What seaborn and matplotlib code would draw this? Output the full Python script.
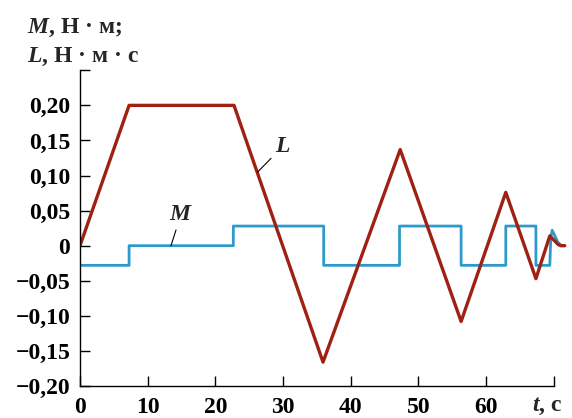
import numpy as np
import matplotlib
matplotlib.use("Agg")
import matplotlib.pyplot as plt
import seaborn as sns

# L, N*m*s  (red broken line)
t_L = [0.0, 7.25, 22.75, 35.9, 47.3, 56.3, 62.9, 67.35, 69.4, 70.0, 70.6, 71.0, 71.6]
L = [0.0, 0.20, 0.20, -0.166, 0.137, -0.108, 0.076, -0.047, 0.014, 0.008, 0.002, 0.0, 0.0]

# M, N*m  (blue step line, vertical edges as repeated times)
t_M = [0.0, 7.25, 7.25, 22.65, 22.65, 36.0, 36.0, 47.2, 47.2, 56.3, 56.3, 62.9, 62.9,
       67.35, 67.35, 69.4, 69.55, 69.75, 70.1, 70.6, 71.0, 71.6]
M = [-0.028, -0.028, 0.0, 0.0, 0.028, 0.028, -0.028, -0.028, 0.028, 0.028, -0.028, -0.028, 0.028,
     0.028, -0.028, -0.028, 0.012, 0.022, 0.015, 0.005, 0.001, 0.0]

x_ticks = [0, 10, 20, 30, 40, 50, 60, 70]
x_labels = ["0", "10", "20", "30", "40", "50", "60", ""]
y_ticks = [-0.20, -0.15, -0.10, -0.05, 0.0, 0.05, 0.10, 0.15, 0.20, 0.25]
y_labels = ["\u22120,20", "\u22120,15", "\u22120,10", "\u22120,05", "0",
            "0,05", "0,10", "0,15", "0,20", ""]

red = "#9e2114"
blue = "#2e9acb"

sns.set_theme(style="ticks")
plt.rcParams["font.family"] = ["Liberation Serif", "DejaVu Serif"]
plt.rcParams["font.weight"] = "bold"
plt.rcParams["mathtext.fontset"] = "custom"
plt.rcParams["mathtext.it"] = "Liberation Serif:italic:bold"
plt.rcParams["mathtext.rm"] = "Liberation Serif:bold"
plt.rcParams["mathtext.bf"] = "Liberation Serif:bold"

fig = plt.figure(figsize=(5.72, 4.18), dpi=100)
ax = fig.add_axes([80 / 572, 32 / 418, 487.4 / 572, 315.7 / 418])

sns.lineplot(x=t_M, y=M, sort=False, estimator=None, color=blue, linewidth=2.0, ax=ax)
sns.lineplot(x=t_L, y=L, sort=False, estimator=None, color=red, linewidth=2.4, ax=ax)

ax.set_xlim(0, 72)
ax.set_ylim(-0.20, 0.25)
for side in ["top", "right"]:
    ax.spines[side].set_visible(False)
for side in ["left", "bottom"]:
    ax.spines[side].set_linewidth(1.0)
    ax.spines[side].set_color("black")
ax.spines["bottom"].set_bounds(0, 70)

ax.set_xticks(x_ticks)
ax.set_xticklabels(x_labels)
ax.set_yticks(y_ticks)
ax.set_yticklabels(y_labels)
ax.tick_params(direction="in", length=7, width=1.0, color="black",
               labelsize=17, labelcolor="black")
ax.tick_params(axis="x", pad=8)
ax.tick_params(axis="y", pad=7)
for lab in ax.get_xticklabels() + ax.get_yticklabels():
    lab.set_fontweight("bold")
ax.set_xlabel("")
ax.set_ylabel("")

# curve labels with leader lines
ax.annotate("$M$", xy=(13.44, 0.0), xytext=(14.9, 0.044), fontsize=17,
            ha="center", va="center",
            arrowprops=dict(arrowstyle="-", lw=0.8, color="black", shrinkA=1, shrinkB=0))
ax.annotate("$L$", xy=(26.2, 0.1046), xytext=(30.0, 0.142), fontsize=17,
            ha="center", va="center",
            arrowprops=dict(arrowstyle="-", lw=0.8, color="black", shrinkA=1, shrinkB=0))

# axis titles
fig.text(27 / 572, 1 - 33 / 418, "$M$, Н · м;", fontsize=17, fontweight="bold",
         ha="left", va="baseline")
fig.text(27 / 572, 1 - 62 / 418, "$L$, Н · м · с", fontsize=17, fontweight="bold",
         ha="left", va="baseline")
fig.text(532 / 572, 1 - 411 / 418, "$t$, с", fontsize=17, fontweight="bold",
         ha="left", va="baseline")

fig.savefig("out.png", dpi=100)
